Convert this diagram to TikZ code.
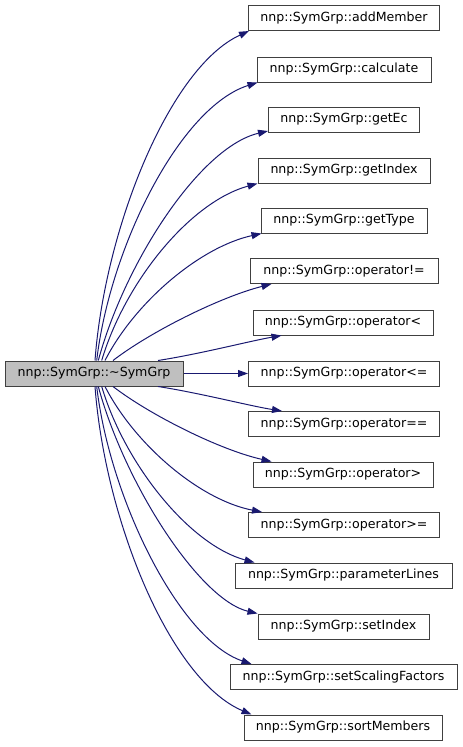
\documentclass[tikz,border=0pt]{standalone}
\usepackage{fontspec}
\setmainfont{DejaVu Sans}
\usetikzlibrary{arrows.meta}
\definecolor{edgeblue}{HTML}{191970}
\definecolor{boxgray}{HTML}{BFBFBF}
\definecolor{boxline}{HTML}{404040}
\begin{document}
\begin{tikzpicture}[x=1pt,y=-1pt,
  fnbox/.style={draw=boxline,line width=1pt,fill=white,minimum height=25pt,inner xsep=0pt,inner ysep=0pt,font=\fontsize{12.6}{14}\selectfont,anchor=center},
  mainbox/.style={fnbox,fill=boxgray},
  call/.style={draw=edgeblue,line width=1pt,-{Triangle[length=10pt,width=7pt]},shorten >=0pt}]
\useasboundingbox (0,0) rectangle (463,747);
\node[mainbox,minimum width=178pt] (main) at (94,373.5) {nnp::SymGrp::\textasciitilde SymGrp};
\node[fnbox,minimum width=191pt] (t1) at (344,18) {nnp::SymGrp::addMember};
\node[fnbox,minimum width=174pt] (t2) at (344,69.5) {nnp::SymGrp::calculate};
\node[fnbox,minimum width=151pt] (t3) at (344,119.5) {nnp::SymGrp::getEc};
\node[fnbox,minimum width=172pt] (t4) at (344,170.5) {nnp::SymGrp::getIndex};
\node[fnbox,minimum width=166pt] (t5) at (344,220.5) {nnp::SymGrp::getType};
\node[fnbox,minimum width=188pt] (t6) at (344,271) {nnp::SymGrp::operator!=};
\node[fnbox,minimum width=180pt] (t7) at (343,322.5) {nnp::SymGrp::operator<};
\node[fnbox,minimum width=191pt] (t8) at (344,373.5) {nnp::SymGrp::operator<=};
\node[fnbox,minimum width=191pt] (t9) at (344,424) {nnp::SymGrp::operator==};
\node[fnbox,minimum width=180pt] (t10) at (343,474.5) {nnp::SymGrp::operator>};
\node[fnbox,minimum width=191pt] (t11) at (344,525) {nnp::SymGrp::operator>=};
\node[fnbox,minimum width=217pt] (t12) at (343.5,575.5) {nnp::SymGrp::parameterLines};
\node[fnbox,minimum width=171pt] (t13) at (343.5,626.5) {nnp::SymGrp::setIndex};
\node[fnbox,minimum width=227pt] (t14) at (343.5,677) {nnp::SymGrp::setScalingFactors};
\node[fnbox,minimum width=198pt] (t15) at (343,727.5) {nnp::SymGrp::sortMembers};
% upper edges
\draw[call] ([xshift=1pt]main.north) .. controls (105,227) and (170,67) .. ([xshift=1pt]t1.south west);
\draw[call] ([xshift=2.7pt]main.north) .. controls (110,247) and (180,107) .. ([xshift=1pt]t2.south west);
\draw[call] ([xshift=4.3pt]main.north) .. controls (125,262) and (200,147) .. ([yshift=1.5pt]t3.south west);
\draw[call] ([xshift=7.7pt]main.north) .. controls (125,282) and (190,202) .. (t4.south west);
\draw[call] ([xshift=11pt]main.north) .. controls (135,302) and (200,247) .. ([xshift=1pt]t5.south west);
\draw[call] ([xshift=19pt]main.north) .. controls (150,332) and (220,297) .. ([xshift=22pt]t6.south west);
\draw[call] ([xshift=64pt]main.north) .. controls (200,354) and (250,341) .. ([xshift=29pt]t7.south west);
% middle
\draw[call] (main.east) -- (t8.west);
% lower edges
\draw[call] ([xshift=64pt]main.south) .. controls (200,393) and (250,406) .. ([xshift=34pt]t9.north west);
\draw[call] ([xshift=19pt]main.south) .. controls (150,415) and (220,450) .. ([xshift=19pt]t10.north west);
\draw[call] ([xshift=11pt]main.south) .. controls (135,445) and (200,500) .. ([xshift=14pt]t11.north west);
\draw[call] ([xshift=7.7pt]main.south) .. controls (125,465) and (190,545) .. ([xshift=20pt]t12.north west);
\draw[call] ([xshift=4.3pt]main.south) .. controls (125,485) and (200,600) .. (t13.north west);
\draw[call] ([xshift=2.7pt]main.south) .. controls (110,500) and (180,640) .. ([xshift=22pt]t14.north west);
\draw[call] ([xshift=1pt]main.south) .. controls (105,520) and (170,680) .. ([xshift=8pt]t15.north west);
\end{tikzpicture}
\end{document}
